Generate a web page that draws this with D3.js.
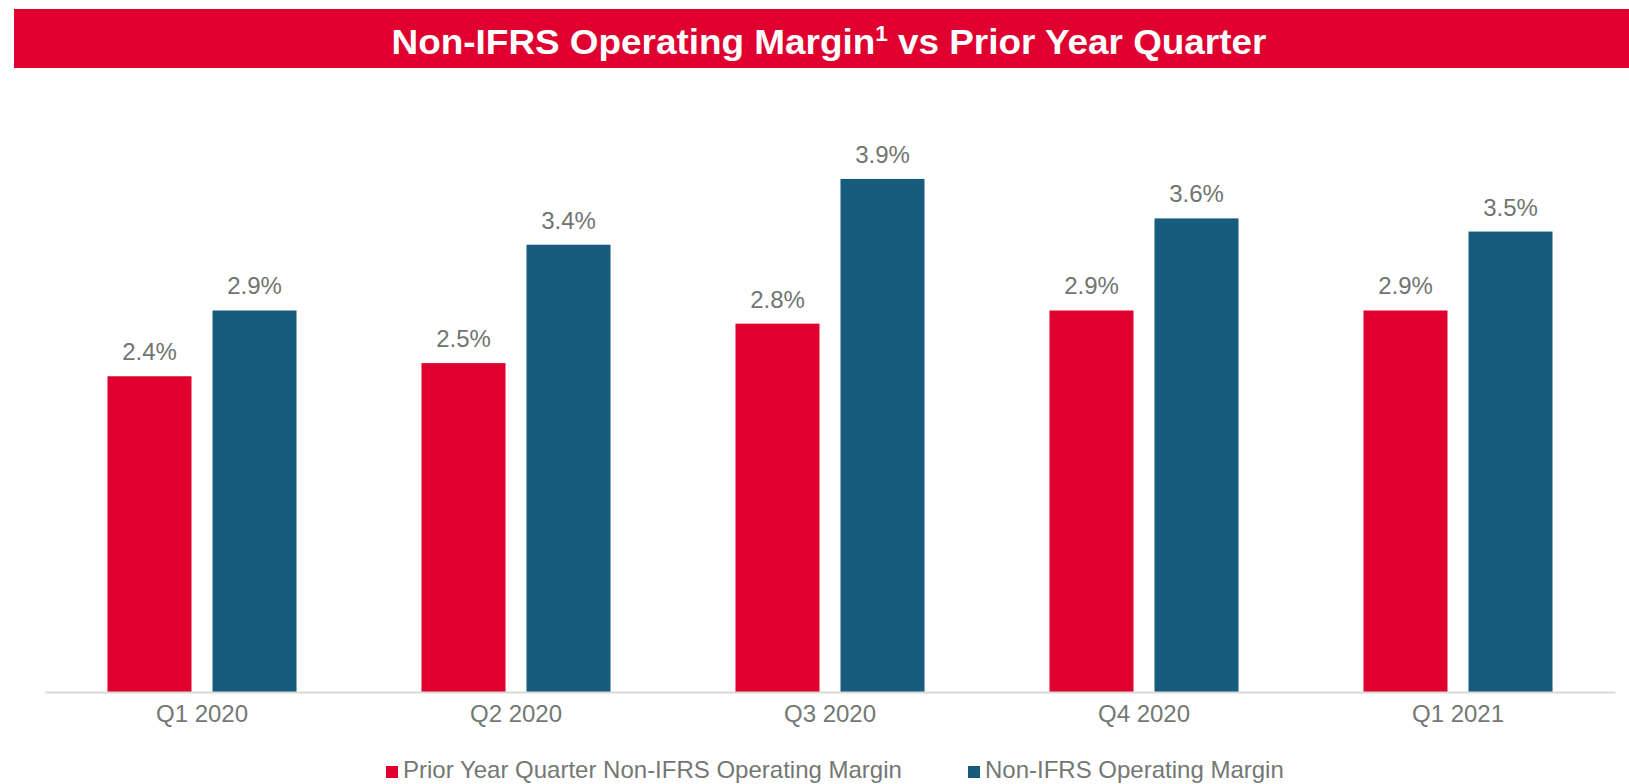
<!DOCTYPE html>
<html>
<head>
<meta charset="utf-8">
<script src="https://cdn.jsdelivr.net/npm/d3@7"></script>
<style>
  body { margin: 0; background: #fff; }
  svg { display: block; font-family: Arial, "Liberation Sans", sans-serif; }
  .tick text { fill: #737873; font-size: 24px; }
  .bar-label { fill: #707570; font-size: 24px; text-anchor: middle; }
  .legend-label { fill: #737873; font-size: 24px; }
  .title { fill: #fff; font-size: 36px; font-weight: bold; text-anchor: middle; }
</style>
</head>
<body>
<svg width="1629" height="784"></svg>
<script>
const quarters = ['Q1 2020', 'Q2 2020', 'Q3 2020', 'Q4 2020', 'Q1 2021'];
const seriesNames = ['Prior Year Quarter Non-IFRS Operating Margin', 'Non-IFRS Operating Margin'];
const priorYearMargin = [2.4, 2.5, 2.8, 2.9, 2.9];
const currentMargin = [2.9, 3.4, 3.9, 3.6, 3.5];
const seriesColors = ['#DF0030', '#175C7C'];

const svg = d3.select('svg');
const width = +svg.attr('width');
const height = +svg.attr('height');

const margin = { top: 100, right: 14, bottom: 92, left: 45 };
const innerWidth = width - margin.left - margin.right;
const innerHeight = height - margin.top - margin.bottom;

// title banner
svg.append('rect')
  .attr('x', 14)
  .attr('y', 9)
  .attr('width', width - 14)
  .attr('height', 59)
  .attr('fill', '#DF0030');

const title = svg.append('text')
  .attr('class', 'title')
  .attr('transform', 'translate(829,54) scale(1.025,1)');
title.append('tspan').text('Non-IFRS Operating Margin');
title.append('tspan').attr('font-size', 22).attr('dy', -13).text('1');
title.append('tspan').attr('dy', 13).text(' vs Prior Year Quarter');

const data = quarters.map((q, i) => ({
  quarter: q,
  values: [priorYearMargin[i], currentMargin[i]]
}));

const xScale = d3.scaleBand()
  .domain(quarters)
  .range([0, innerWidth])
  .padding(0);

const bw = xScale.bandwidth();
const groupWidth = 189;
const xInner = d3.scaleBand()
  .domain([0, 1])
  .range([(bw - groupWidth) / 2, (bw + groupWidth) / 2])
  .paddingInner(0.2);

const yScale = d3.scaleLinear()
  .domain([0, 4.5])
  .range([innerHeight, 0]);

const g = svg.append('g')
  .attr('transform', `translate(${margin.left},${margin.top})`);

const groups = g.selectAll('.group').data(data)
  .enter().append('g')
    .attr('class', 'group')
    .attr('transform', d => `translate(${xScale(d.quarter)},0)`);

groups.selectAll('rect').data(d => d.values)
  .enter().append('rect')
    .attr('x', (d, i) => xInner(i))
    .attr('width', xInner.bandwidth())
    .attr('y', d => yScale(d))
    .attr('height', d => innerHeight - yScale(d))
    .attr('fill', (d, i) => seriesColors[i]);

groups.selectAll('.bar-label').data(d => d.values)
  .enter().append('text')
    .attr('class', 'bar-label')
    .attr('x', (d, i) => xInner(i) + xInner.bandwidth() / 2)
    .attr('y', d => yScale(d) - 16)
    .text(d => d.toFixed(1) + '%');

const xAxis = d3.axisBottom(xScale)
  .tickSize(0)
  .tickPadding(13);

const xAxisG = g.append('g')
  .attr('transform', `translate(0,${innerHeight})`)
  .call(xAxis);
xAxisG.select('.domain')
  .attr('stroke', '#d9d9d9')
  .attr('stroke-width', 2);
xAxisG.selectAll('.tick text')
  .attr('font-family', null)
  .attr('font-size', null);

// legend
const legendX = [386, 968];
const legend = svg.selectAll('.legend').data(seriesNames)
  .enter().append('g')
    .attr('class', 'legend')
    .attr('transform', (d, i) => `translate(${legendX[i]},766)`);
legend.append('rect')
  .attr('width', 12)
  .attr('height', 12)
  .attr('fill', (d, i) => seriesColors[i]);
legend.append('text')
  .attr('class', 'legend-label')
  .attr('x', 17)
  .attr('y', 12)
  .text(d => d);
</script>
</body>
</html>
